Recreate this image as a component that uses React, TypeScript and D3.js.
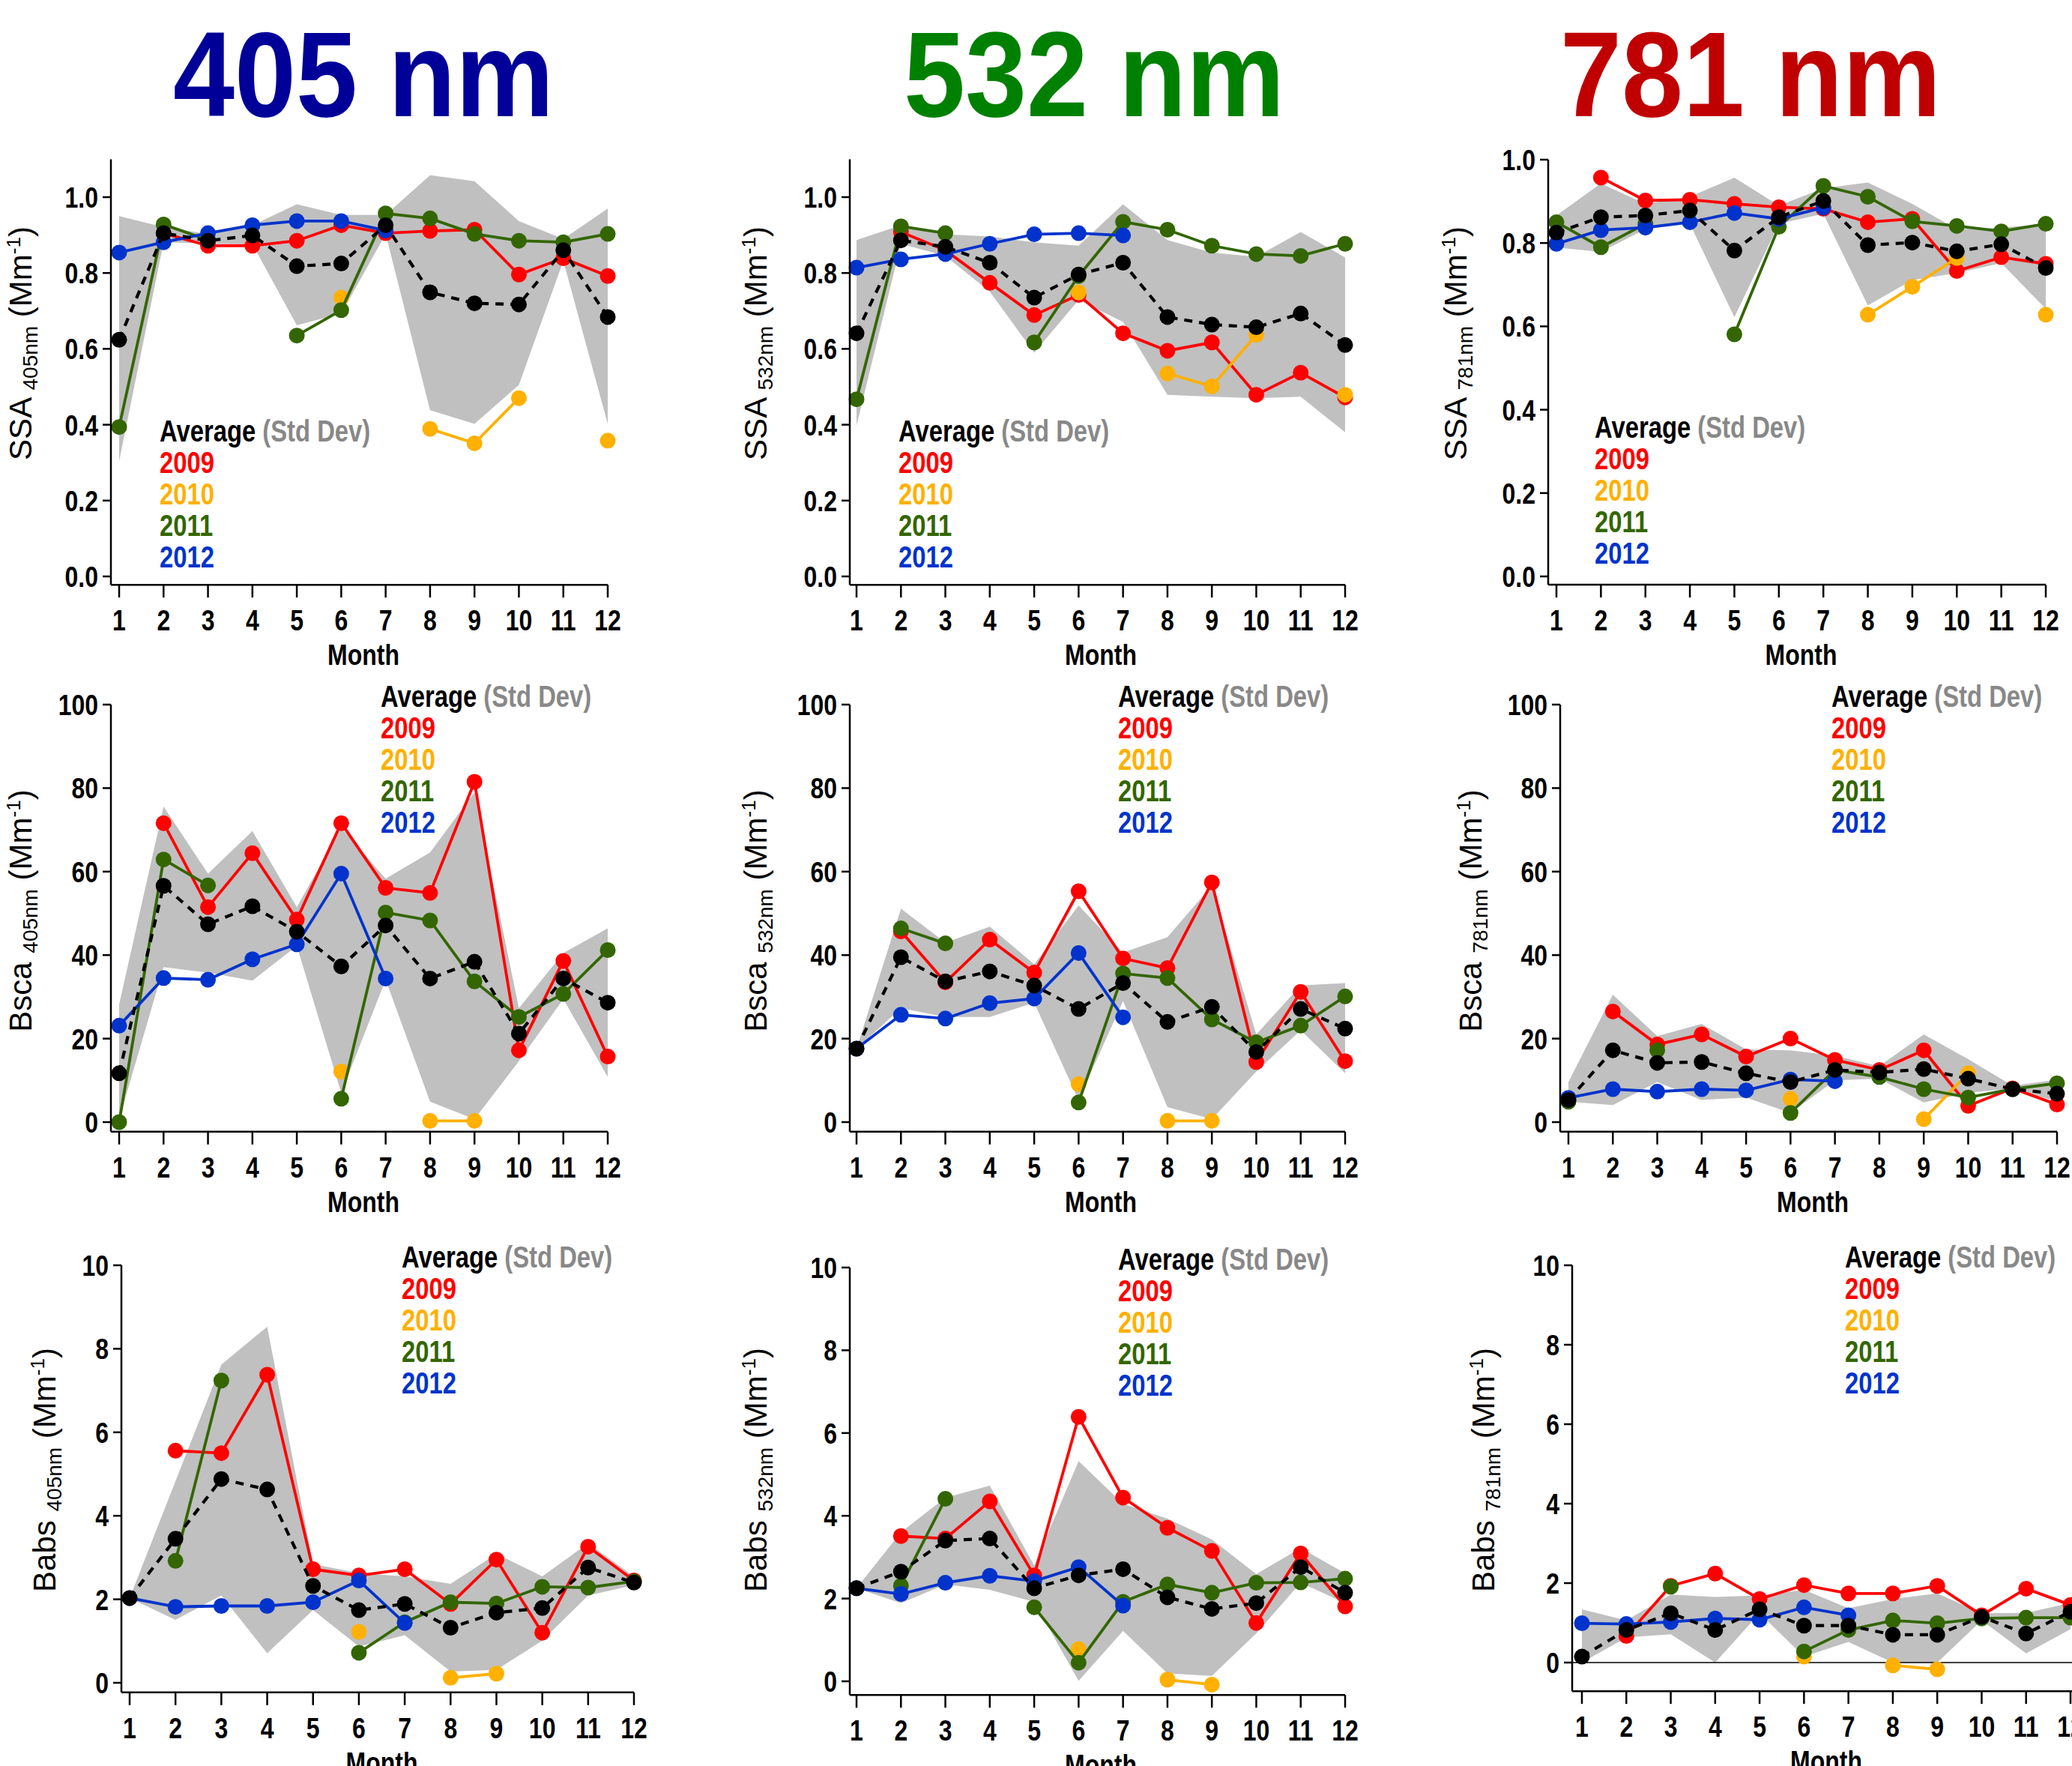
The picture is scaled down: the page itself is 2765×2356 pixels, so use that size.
import React from 'react';
import * as d3 from 'd3';

// ---- data ----
const months = [1, 2, 3, 4, 5, 6, 7, 8, 9, 10, 11, 12];
const yearLabels = ['2009', '2010', '2011', '2012'];
const yearColors = ['#ff0000', '#ffb000', '#336600', '#0033cc'];
const waveTitles = ['405 nm', '532 nm', '781 nm'];
const waveColors = ['#000099', '#008000', '#c00000'];

const ssaTicks = [0, 0.2, 0.4, 0.6, 0.8, 1.0];
const bscaTicks = [0, 20, 40, 60, 80, 100];
const babsTicks = [0, 2, 4, 6, 8, 10];

type V = number | null;
const _ = null;

// SSA 405
const ssa405_2009: V[] = [_, 0.905, 0.872, 0.872, 0.885, 0.926, 0.905, 0.911, 0.914, 0.796, 0.839, 0.792];
const ssa405_2010: V[] = [_, _, _, _, _, 0.735, _, 0.389, 0.351, 0.47, _, 0.358];
const ssa405_2011: V[] = [0.394, 0.928, 0.887, _, 0.635, 0.702, 0.957, 0.944, 0.903, 0.885, 0.881, 0.903];
const ssa405_2012: V[] = [0.854, 0.881, 0.905, 0.926, 0.937, 0.937, 0.912, _, _, _, _, _];
const ssa405_avg = [0.624, 0.905, 0.885, 0.899, 0.818, 0.825, 0.926, 0.749, 0.72, 0.717, 0.86, 0.684];
const ssa405_hi = [0.95, 0.921, 0.903, 0.926, 0.981, 0.953, 0.953, 1.058, 1.042, 0.937, 0.89, 0.97];
const ssa405_lo = [0.304, 0.881, 0.878, 0.876, 0.662, 0.693, 0.903, 0.438, 0.402, 0.505, 0.832, 0.402];

// SSA 532
const ssa532_2009: V[] = [_, 0.908, 0.86, 0.774, 0.689, 0.742, 0.641, 0.595, 0.617, 0.479, 0.537, 0.472];
const ssa532_2010: V[] = [_, _, _, _, _, 0.749, _, 0.535, 0.501, 0.637, _, 0.479];
const ssa532_2011: V[] = [0.467, 0.923, 0.905, _, 0.617, 0.792, 0.935, 0.914, 0.872, 0.85, 0.845, 0.877];
const ssa532_2012: V[] = [0.814, 0.836, 0.85, 0.877, 0.902, 0.905, 0.899, _, _, _, _, _];
const ssa532_avg = [0.641, 0.886, 0.869, 0.827, 0.735, 0.796, 0.827, 0.684, 0.664, 0.657, 0.693, 0.61];
const ssa532_hi = [0.887, 0.926, 0.902, 0.896, 0.881, 0.872, 0.981, 0.887, 0.854, 0.843, 0.908, 0.841];
const ssa532_lo = [0.398, 0.877, 0.845, 0.751, 0.59, 0.729, 0.671, 0.479, 0.474, 0.47, 0.474, 0.38];

// SSA 781
const ssa781_2009: V[] = [_, 0.957, 0.902, 0.904, 0.894, 0.886, 0.882, 0.85, 0.858, 0.733, 0.766, 0.75];
const ssa781_2010: V[] = [_, _, _, _, _, _, _, 0.628, 0.695, 0.764, _, 0.628];
const ssa781_2011: V[] = [0.85, 0.79, 0.846, _, 0.581, 0.839, 0.937, 0.911, 0.852, 0.841, 0.828, 0.846];
const ssa781_2012: V[] = [0.798, 0.831, 0.837, 0.85, 0.872, 0.858, 0.885, _, _, _, _, _];
const ssa781_avg = [0.825, 0.862, 0.866, 0.878, 0.782, 0.862, 0.901, 0.795, 0.801, 0.78, 0.797, 0.74];
const ssa781_hi = [0.866, 0.943, 0.894, 0.911, 0.957, 0.89, 0.931, 0.945, 0.894, 0.833, 0.837, 0.846];
const ssa781_lo = [0.789, 0.779, 0.833, 0.846, 0.622, 0.846, 0.87, 0.65, 0.711, 0.728, 0.752, 0.642];

// Bsca 405
const bsca405_2009: V[] = [_, 71.6, 51.5, 64.4, 48.5, 71.6, 56.1, 54.9, 81.5, 17.2, 38.6, 15.7];
const bsca405_2010: V[] = [_, _, _, _, _, 12.1, _, 0.3, 0.3, _, _, _];
const bsca405_2011: V[] = [0, 62.9, 56.7, _, _, 5.6, 50.2, 48.3, 33.7, 25.2, 30.7, 41.2];
const bsca405_2012: V[] = [23.1, 34.5, 34.1, 39.0, 42.6, 59.5, 34.4, _, _, _, _, _];
const bsca405_avg = [11.7, 56.6, 47.4, 51.7, 45.6, 37.3, 47.1, 34.4, 38.4, 21.2, 34.4, 28.6];
const bsca405_hi = [28.2, 75.6, 59.5, 69.7, 51.5, 70.5, 58.3, 64.6, 79.0, 27.3, 40.5, 46.4];
const bsca405_lo = [0.7, 37.1, 35.8, 33.9, 42.2, 7.0, 34.1, 4.9, 0.7, 14.6, 29.5, 10.8];

// Bsca 532
const bsca532_2009: V[] = [_, 45.7, 33.5, 43.7, 35.8, 55.3, 39.2, 36.9, 57.4, 14.4, 31.2, 14.6];
const bsca532_2010: V[] = [_, _, _, _, _, 9.1, _, 0.3, 0.3, _, _, _];
const bsca532_2011: V[] = [_, 46.4, 42.8, _, _, 4.7, 35.6, 34.5, 24.6, 19.1, 23.1, 30.1];
const bsca532_2012: V[] = [17.6, 25.7, 24.8, 28.5, 29.6, 40.5, 25.1, _, _, _, _, _];
const bsca532_avg = [17.6, 39.5, 33.7, 36.1, 32.7, 27.1, 33.3, 24.0, 27.6, 16.8, 27.1, 22.4];
const bsca532_hi = [17.6, 51.1, 43.0, 46.8, 37.8, 51.9, 40.6, 44.3, 56.7, 21.0, 32.7, 33.3];
const bsca532_lo = [17.6, 27.3, 25.2, 25.2, 28.6, 5.3, 29.0, 3.6, 0.7, 12.1, 22.0, 11.7];

// Bsca 781
const bsca781_2009: V[] = [_, 26.5, 18.6, 21.0, 15.7, 20.0, 14.9, 12.5, 17.2, 3.9, 8.1, 4.2];
const bsca781_2010: V[] = [_, _, _, _, _, 5.6, _, _, 0.7, 11.7, _, _];
const bsca781_2011: V[] = [4.9, _, 17.2, _, _, 2.2, 12.5, 10.8, 7.9, 5.9, 7.9, 9.3];
const bsca781_2012: V[] = [5.8, 7.9, 7.3, 7.9, 7.6, 10.2, 9.8, _, _, _, _, _];
const bsca781_avg = [5.3, 17.2, 14.2, 14.4, 11.7, 9.6, 12.5, 11.9, 12.7, 10.4, 7.9, 6.8];
const bsca781_hi = [9.6, 30.5, 20.6, 23.5, 17.4, 17.2, 15.9, 13.4, 21.0, 15.1, 8.7, 10.2];
const bsca781_lo = [4.9, 4.1, 9.6, 5.3, 5.9, 2.2, 10.0, 10.4, 4.7, 7.0, 8.1, 4.9];

// Babs 405
const babs405_2009: V[] = [_, 5.56, 5.5, 7.38, 2.72, 2.57, 2.72, 1.89, 2.95, 1.2, 3.26, 2.45];
const babs405_2010: V[] = [_, _, _, _, _, 1.22, _, 0.12, 0.22, _, _, _];
const babs405_2011: V[] = [_, 2.92, 7.24, _, _, 0.72, 1.45, 1.93, 1.9, 2.3, 2.28, 2.43];
const babs405_2012: V[] = [2.03, 1.82, 1.84, 1.84, 1.93, 2.45, 1.43, _, _, _, _, _];
const babs405_avg = [2.03, 3.45, 4.88, 4.63, 2.32, 1.74, 1.89, 1.32, 1.68, 1.79, 2.76, 2.4];
const babs405_hi = [2.03, 4.83, 7.62, 8.53, 2.84, 2.63, 2.55, 2.37, 3.09, 2.55, 3.34, 2.55];
const babs405_lo = [2.03, 1.51, 2.09, 0.71, 1.74, 0.87, 1.14, 0.27, 0.31, 1.01, 2.09, 2.34];

// Babs 532
const babs532_2009: V[] = [_, 3.51, 3.45, 4.35, 2.56, 6.39, 4.44, 3.71, 3.15, 1.41, 3.09, 1.81];
const babs532_2010: V[] = [_, _, _, _, _, 0.78, _, 0.04, -0.08, _, _, _];
const babs532_2011: V[] = [_, 2.31, 4.41, _, 1.79, 0.45, 1.92, 2.34, 2.14, 2.38, 2.39, 2.48];
const babs532_2012: V[] = [2.25, 2.11, 2.38, 2.55, 2.42, 2.76, 1.83, _, _, _, _, _];
const babs532_avg = [2.25, 2.65, 3.4, 3.45, 2.25, 2.56, 2.71, 2.03, 1.75, 1.89, 2.76, 2.14];
const babs532_hi = [2.25, 3.6, 4.44, 4.73, 2.8, 5.32, 4.29, 3.93, 3.43, 2.59, 3.22, 2.61];
const babs532_lo = [2.25, 1.89, 2.34, 2.21, 1.92, 0.01, 1.22, 0.19, 0.13, 1.16, 2.38, 1.89];

// Babs 781
const babs781_2009: V[] = [_, 0.67, 1.93, 2.24, 1.6, 1.95, 1.74, 1.74, 1.93, 1.19, 1.86, 1.45];
const babs781_2010: V[] = [_, _, _, _, _, 0.15, _, -0.07, -0.17, _, _, _];
const babs781_2011: V[] = [_, _, 1.91, _, _, 0.28, 0.82, 1.06, 0.99, 1.11, 1.13, 1.13];
const babs781_2012: V[] = [0.99, 0.97, 1.02, 1.11, 1.08, 1.39, 1.19, _, _, _, _, _];
const babs781_avg = [0.15, 0.82, 1.24, 0.82, 1.34, 0.93, 0.93, 0.7, 0.7, 1.15, 0.73, 1.28];
const babs781_hi = [1.34, 1.06, 1.71, 1.65, 1.69, 1.83, 1.37, 1.6, 1.74, 1.24, 1.25, 1.5];
const babs781_lo = [-0.95, 0.63, 0.71, 0.0, 1.24, 0.15, 0.52, -0.35, -0.71, 1.06, 0.23, 0.84];

// ---- layout ----
const SANS = "'Liberation Sans', Arial, sans-serif";
const SQUEEZE = 0.82; // the original uses a narrow bold face

interface PanelCfg {
  name: string; wl: string;
  left: number; x1: number; x12: number;
  yZero: number; yTop: number; topTick: number; dMin: number; dMax: number;
  ticks: number[]; fmt: (v: number) => string;
  years: V[][]; avg: number[]; hi: number[]; lo: number[];
  legX: number; legY: number; labX: number; labY: number;
  clipZero?: boolean; extendRight?: boolean;
}

const f1 = (v: number) => v.toFixed(1);
const f0 = (v: number) => String(v);

const panels: PanelCfg[] = [
  { name: 'SSA', wl: '405nm', left: 148, x1: 159, x12: 811, yZero: 769, yTop: 263, topTick: 1, dMin: -0.022, dMax: 1.1,
    ticks: ssaTicks, fmt: f1, years: [ssa405_2009, ssa405_2010, ssa405_2011, ssa405_2012], avg: ssa405_avg, hi: ssa405_hi, lo: ssa405_lo,
    legX: 213, legY: 589, labX: 42, labY: 458 },
  { name: 'SSA', wl: '532nm', left: 1134, x1: 1143, x12: 1795, yZero: 769, yTop: 263, topTick: 1, dMin: -0.022, dMax: 1.1,
    ticks: ssaTicks, fmt: f1, years: [ssa532_2009, ssa532_2010, ssa532_2011, ssa532_2012], avg: ssa532_avg, hi: ssa532_hi, lo: ssa532_lo,
    legX: 1199, legY: 589, labX: 1023, labY: 458 },
  { name: 'SSA', wl: '781nm', left: 2066, x1: 2077, x12: 2730, yZero: 769, yTop: 213, topTick: 1, dMin: -0.02, dMax: 1.0,
    ticks: ssaTicks, fmt: f1, years: [ssa781_2009, ssa781_2010, ssa781_2011, ssa781_2012], avg: ssa781_avg, hi: ssa781_hi, lo: ssa781_lo,
    legX: 2128, legY: 584, labX: 1957, labY: 458 },
  { name: 'Bsca', wl: '405nm', left: 148, x1: 159, x12: 811, yZero: 1497, yTop: 940, topTick: 100, dMin: -2.3, dMax: 100,
    ticks: bscaTicks, fmt: f0, years: [bsca405_2009, bsca405_2010, bsca405_2011, bsca405_2012], avg: bsca405_avg, hi: bsca405_hi, lo: bsca405_lo,
    legX: 508, legY: 943, labX: 42, labY: 1215 },
  { name: 'Bsca', wl: '532nm', left: 1134, x1: 1143, x12: 1795, yZero: 1497, yTop: 940, topTick: 100, dMin: -2.3, dMax: 100,
    ticks: bscaTicks, fmt: f0, years: [bsca532_2009, bsca532_2010, bsca532_2011, bsca532_2012], avg: bsca532_avg, hi: bsca532_hi, lo: bsca532_lo,
    legX: 1492, legY: 943, labX: 1023, labY: 1215 },
  { name: 'Bsca', wl: '781nm', left: 2082, x1: 2093, x12: 2745, yZero: 1497, yTop: 940, topTick: 100, dMin: -2.3, dMax: 100,
    ticks: bscaTicks, fmt: f0, years: [bsca781_2009, bsca781_2010, bsca781_2011, bsca781_2012], avg: bsca781_avg, hi: bsca781_hi, lo: bsca781_lo,
    legX: 2444, legY: 943, labX: 1977, labY: 1215 },
  { name: 'Babs', wl: '405nm', left: 162, x1: 173, x12: 846, yZero: 2245, yTop: 1688, topTick: 10, dMin: -0.23, dMax: 10,
    ticks: babsTicks, fmt: f0, years: [babs405_2009, babs405_2010, babs405_2011, babs405_2012], avg: babs405_avg, hi: babs405_hi, lo: babs405_lo,
    legX: 536, legY: 1691, labX: 74, labY: 1961 },
  { name: 'Babs', wl: '532nm', left: 1134, x1: 1143, x12: 1795, yZero: 2243, yTop: 1691, topTick: 10, dMin: -0.33, dMax: 10,
    ticks: babsTicks, fmt: f0, years: [babs532_2009, babs532_2010, babs532_2011, babs532_2012], avg: babs532_avg, hi: babs532_hi, lo: babs532_lo,
    legX: 1492, legY: 1694, labX: 1023, labY: 1961 },
  { name: 'Babs', wl: '781nm', left: 2098, x1: 2111, x12: 2763, yZero: 2218, yTop: 1688, topTick: 10, dMin: -0.72, dMax: 10,
    ticks: babsTicks, fmt: f0, years: [babs781_2009, babs781_2010, babs781_2011, babs781_2012], avg: babs781_avg, hi: babs781_hi, lo: babs781_lo,
    legX: 2462, legY: 1691, labX: 1994, labY: 1961, clipZero: true, extendRight: true },
];

const titleX = [485, 1460, 2336];

// bold text squeezed horizontally to mimic a narrow face
function NText({ x, y, anchor = 'start', size = 38, fill = '#000', children }:
  { x: number; y: number; anchor?: string; size?: number; fill?: string; children: React.ReactNode }) {
  return (
    <text transform={`translate(${x},${y}) scale(${SQUEEZE},1)`} textAnchor={anchor}
      fontFamily={SANS} fontWeight="bold" fontSize={size} fill={fill}>
      {children}
    </text>
  );
}

function Panel({ p }: { p: PanelCfg }) {
  const x = d3.scaleLinear().domain([1, 12]).range([p.x1, p.x12]);
  const y = d3.scaleLinear().domain([0, p.topTick]).range([p.yZero, p.yTop]);
  const axisY = y(p.dMin);
  const topY = y(p.dMax);
  const rightX = p.extendRight ? 2765 : x(12);
  const lowOf = (v: number) => (p.clipZero ? Math.max(0, v) : v);

  const band = d3.area<number>()
    .x((_d, i) => x(months[i]))
    .y0((_d, i) => y(lowOf(p.lo[i])))
    .y1((d) => y(d));
  const line = d3.line<V>()
    .defined((d) => d !== null)
    .x((_d, i) => x(months[i]))
    .y((d) => y(d as number));

  return (
    <g>
      <path d={band(p.hi) || ''} fill="#c0c0c0" />
      {p.clipZero && (
        <line x1={p.left} x2={2765} y1={y(0)} y2={y(0)} stroke="#000" strokeWidth={1.5} />
      )}
      {p.years.map((s, k) => (
        <g key={k}>
          <path d={line(s) || ''} fill="none" stroke={yearColors[k]} strokeWidth={3.8} />
          {s.map((v, i) => v === null ? null : (
            <circle key={i} cx={x(months[i])} cy={y(v)} r={10.5} fill={yearColors[k]} />
          ))}
        </g>
      ))}
      <path d={line(p.avg) || ''} fill="none" stroke="#000" strokeWidth={4.2} strokeDasharray="11 9" />
      {p.avg.map((v, i) => (
        <circle key={i} cx={x(months[i])} cy={y(v)} r={10.5} fill="#000" />
      ))}

      {/* axes */}
      <line x1={p.left} x2={p.left} y1={topY} y2={axisY} stroke="#000" strokeWidth={2.5} />
      <line x1={p.left} x2={rightX} y1={axisY} y2={axisY} stroke="#000" strokeWidth={2.5} />
      {p.ticks.map((t) => (
        <g key={t}>
          <line x1={p.left - 11} x2={p.left} y1={y(t)} y2={y(t)} stroke="#000" strokeWidth={2.5} />
          <NText x={p.left - 17} y={y(t) + 14} anchor="end" size={39}>{p.fmt(t)}</NText>
        </g>
      ))}
      {months.map((m) => (
        <g key={m}>
          <line x1={x(m)} x2={x(m)} y1={axisY} y2={axisY + 17} stroke="#000" strokeWidth={2.5} />
          <NText x={x(m)} y={axisY + 61} anchor="middle" size={39}>{m}</NText>
        </g>
      ))}
      <NText x={(x(1) + x(12)) / 2} y={axisY + 107} anchor="middle" size={39}>Month</NText>

      {/* y label */}
      <text transform={`translate(${p.labX},${p.labY}) rotate(-90)`} textAnchor="middle" fontFamily={SANS} fontSize={42}>
        {p.name + ' '}
        <tspan fontSize={28} dy={8}>{p.wl}</tspan>
        <tspan dy={-8}>{' (Mm'}</tspan>
        <tspan fontSize={26} dy={-15}>-1</tspan>
        <tspan dy={15}>)</tspan>
      </text>

      {/* legend */}
      <NText x={p.legX} y={p.legY} size={40}>
        Average <tspan fill="#888888">(Std Dev)</tspan>
      </NText>
      {yearLabels.map((yl, k) => (
        <NText key={yl} x={p.legX} y={p.legY + 42 * (k + 1)} size={40} fill={yearColors[k]}>{yl}</NText>
      ))}
    </g>
  );
}

export default function App() {
  return (
    <svg width={2765} height={2356} style={{ position: 'absolute', left: 0, top: 0, display: 'block', background: '#fff' }}>
      <rect width={2765} height={2356} fill="#fff" />
      {waveTitles.map((t, i) => (
        <text key={t} x={titleX[i]} y={155} textAnchor="middle" fontFamily={SANS} fontWeight="bold"
          fontSize={162} fill={waveColors[i]} textLength={508} lengthAdjust="spacingAndGlyphs">
          {t}
        </text>
      ))}
      {panels.map((p, i) => <Panel key={i} p={p} />)}
    </svg>
  );
}
